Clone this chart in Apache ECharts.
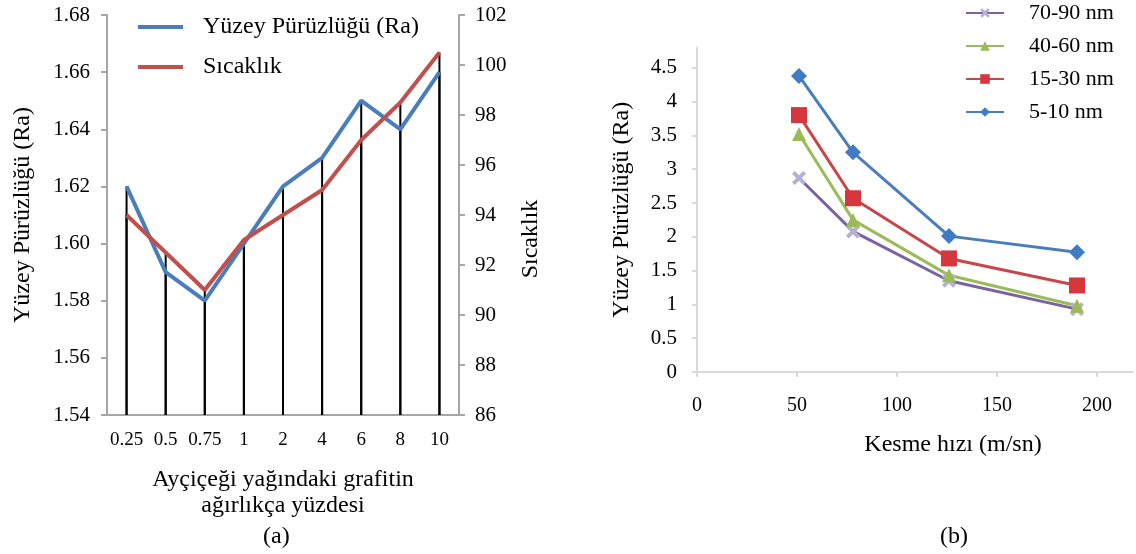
<!DOCTYPE html>
<html>
<head>
<meta charset="utf-8">
<script src="https://cdn.jsdelivr.net/npm/echarts@6/dist/echarts.min.js"></script>
<style>
  html, body { margin: 0; padding: 0; background: #fff; }
  #chart { width: 1136px; height: 554px; }
</style>
</head>
<body>
<div id="chart"></div>
<script>
// (a) grafit oranı
const categories = ['0.25', '0.5', '0.75', '1', '2', '4', '6', '8', '10']
const raValues = [1.62, 1.59, 1.58, 1.60, 1.62, 1.63, 1.65, 1.64, 1.66]
const tempValues = [94, 92.5, 91, 93, 94, 95, 97, 98.5, 100.5]
const raTicks = [1.54, 1.56, 1.58, 1.60, 1.62, 1.64, 1.66, 1.68]
const tempTicks = [86, 88, 90, 92, 94, 96, 98, 100, 102]

// (b) kesme hızı
const speeds = [51, 78, 126, 190]
const nm70_90 = [2.87, 2.08, 1.35, 0.93]
const nm40_60 = [3.52, 2.25, 1.43, 0.98]
const nm15_30 = [3.80, 2.57, 1.68, 1.28]
const nm5_10 = [4.38, 3.25, 2.01, 1.77]
const speedTicks = [0, 50, 100, 150, 200]
const rbTicks = [0, 0.5, 1, 1.5, 2, 2.5, 3, 3.5, 4, 4.5]

const FONT = 'Liberation Serif'
const pairs = (ys) => speeds.map((x, i) => [x, ys[i]])
const crossPath = 'path://M2,0 L5,3 L8,0 L10,2 L7,5 L10,8 L8,10 L5,7 L2,10 L0,8 L3,5 L0,2 Z'

const chart = echarts.init(document.getElementById('chart'))
chart.setOption({
  backgroundColor: '#fff',
  animation: false,
  textStyle: { fontFamily: FONT, color: '#000' },
  grid: [
    { left: 107, right: 677, top: 15, bottom: 139 },
    { left: 697, right: 3, top: 47.5, bottom: 182 }
  ],
  legend: [
    {
      data: ['Yüzey Pürüzlüğü (Ra)', 'Sıcaklık'],
      orient: 'vertical',
      left: 138,
      top: 15,
      padding: 0,
      icon: 'rect',
      itemWidth: 45,
      itemHeight: 4,
      itemGap: 16,
      textStyle: { fontFamily: FONT, fontSize: 24, color: '#000', padding: [0, 0, 0, 15] }
    },
    {
      data: ['70-90 nm', '40-60 nm', '15-30 nm', '5-10 nm'],
      orient: 'vertical',
      left: 965,
      top: 2,
      padding: 0,
      itemWidth: 38,
      itemHeight: 12,
      itemGap: 11,
      textStyle: { fontFamily: FONT, fontSize: 22, color: '#000', padding: [0, 0, 0, 20] }
    }
  ],
  xAxis: [
    {
      gridIndex: 0,
      type: 'category',
      data: categories,
      boundaryGap: true,
      axisLine: { lineStyle: { color: '#a6a6a6', width: 2 } },
      axisTick: { show: false },
      axisLabel: { fontFamily: FONT, fontSize: 19, color: '#000', margin: 16, interval: 0 },
      name: 'Ayçiçeği yağındaki grafitin\nağırlıkça yüzdesi',
      nameLocation: 'middle',
      nameGap: 52,
      nameTextStyle: { fontFamily: FONT, fontSize: 24, color: '#000', lineHeight: 26 }
    },
    {
      gridIndex: 1,
      type: 'value',
      min: 0,
      max: 218,
      axisLine: { show: true, lineStyle: { color: '#d9d9d9', width: 2 } },
      axisTick: { show: true, length: 5, customValues: speedTicks, lineStyle: { color: '#d9d9d9', width: 2 } },
      axisLabel: { fontFamily: FONT, fontSize: 20, color: '#000', margin: 24, customValues: speedTicks },
      splitLine: { show: false },
      name: 'Kesme hızı (m/sn)',
      nameLocation: 'middle',
      nameGap: 61,
      nameTextStyle: { fontFamily: FONT, fontSize: 24, color: '#000', padding: [0, 0, 0, 76] }
    }
  ],
  yAxis: [
    {
      gridIndex: 0,
      type: 'value',
      min: raTicks[0],
      max: raTicks[raTicks.length - 1],
      axisLine: { show: true, lineStyle: { color: '#a6a6a6', width: 2 } },
      axisTick: { show: true, length: 6, customValues: raTicks, lineStyle: { color: '#a6a6a6', width: 2 } },
      axisLabel: {
        fontFamily: FONT, fontSize: 21, color: '#000', margin: 17,
        customValues: raTicks,
        formatter: (v) => v.toFixed(2)
      },
      splitLine: { show: false },
      name: 'Yüzey Pürüzlüğü (Ra)',
      nameLocation: 'middle',
      nameRotate: 90,
      nameGap: 72,
      nameTextStyle: { fontFamily: FONT, fontSize: 24, color: '#000' }
    },
    {
      gridIndex: 0,
      type: 'value',
      position: 'right',
      min: tempTicks[0],
      max: tempTicks[tempTicks.length - 1],
      axisLine: { show: true, lineStyle: { color: '#a6a6a6', width: 2 } },
      axisTick: { show: true, length: 6, customValues: tempTicks, lineStyle: { color: '#a6a6a6', width: 2 } },
      axisLabel: { fontFamily: FONT, fontSize: 21, color: '#000', margin: 16, customValues: tempTicks },
      splitLine: { show: false },
      name: 'Sıcaklık',
      nameLocation: 'middle',
      nameRotate: 90,
      nameGap: 60,
      nameTextStyle: { fontFamily: FONT, fontSize: 24, color: '#000', padding: [0, 48, 0, 0] }
    },
    {
      gridIndex: 1,
      type: 'value',
      min: 0,
      max: 4.8,
      axisLine: { show: true, lineStyle: { color: '#d9d9d9', width: 2 } },
      axisTick: { show: true, length: 5, customValues: rbTicks, lineStyle: { color: '#d9d9d9', width: 2 } },
      axisLabel: { fontFamily: FONT, fontSize: 21, color: '#000', margin: 20, customValues: rbTicks },
      splitLine: { show: false },
      name: 'Yüzey Pürüzlüğü (Ra)',
      nameLocation: 'middle',
      nameRotate: 90,
      nameGap: 63,
      nameTextStyle: { fontFamily: FONT, fontSize: 24, color: '#000' }
    }
  ],
  series: [
    // dikey düşey çizgiler (drop lines)
    {
      name: 'ra-drop', type: 'bar', xAxisIndex: 0, yAxisIndex: 0,
      data: raValues, barWidth: 2, z: 1, silent: true,
      itemStyle: { color: '#000' }
    },
    {
      name: 'temp-drop', type: 'bar', xAxisIndex: 0, yAxisIndex: 1,
      data: tempValues, barWidth: 2, barGap: '-100%', z: 1, silent: true,
      itemStyle: { color: '#000' }
    },
    {
      name: 'Yüzey Pürüzlüğü (Ra)', type: 'line', xAxisIndex: 0, yAxisIndex: 0,
      data: raValues, symbol: 'none',
      lineStyle: { color: '#4a7ebb', width: 4 }, itemStyle: { color: '#4a7ebb' }
    },
    {
      name: 'Sıcaklık', type: 'line', xAxisIndex: 0, yAxisIndex: 1,
      data: tempValues, symbol: 'none',
      lineStyle: { color: '#c0504d', width: 4 }, itemStyle: { color: '#c0504d' }
    },
    {
      name: '70-90 nm', type: 'line', xAxisIndex: 1, yAxisIndex: 2,
      data: pairs(nm70_90), symbol: crossPath, symbolSize: 14,
      lineStyle: { color: '#7b62a5', width: 3 }, itemStyle: { color: '#b8b0d2' }
    },
    {
      name: '40-60 nm', type: 'line', xAxisIndex: 1, yAxisIndex: 2,
      data: pairs(nm40_60), symbol: 'triangle', symbolSize: 14,
      lineStyle: { color: '#9bbb59', width: 3 }, itemStyle: { color: '#9bbb59' }
    },
    {
      name: '15-30 nm', type: 'line', xAxisIndex: 1, yAxisIndex: 2,
      data: pairs(nm15_30), symbol: 'rect', symbolSize: 16,
      lineStyle: { color: '#c8464a', width: 3 }, itemStyle: { color: '#d5373d' }
    },
    {
      name: '5-10 nm', type: 'line', xAxisIndex: 1, yAxisIndex: 2,
      data: pairs(nm5_10), symbol: 'diamond', symbolSize: 16,
      lineStyle: { color: '#4a7ebb', width: 3 }, itemStyle: { color: '#3f7cc4' }
    }
  ],
  graphic: [
    { type: 'text', left: 263, top: 525, style: { text: '(a)', font: '24px "Liberation Serif"', fill: '#000' } },
    { type: 'text', left: 940, top: 525, style: { text: '(b)', font: '24px "Liberation Serif"', fill: '#000' } }
  ]
})
window.addEventListener('resize', () => chart.resize())
</script>
</body>
</html>
